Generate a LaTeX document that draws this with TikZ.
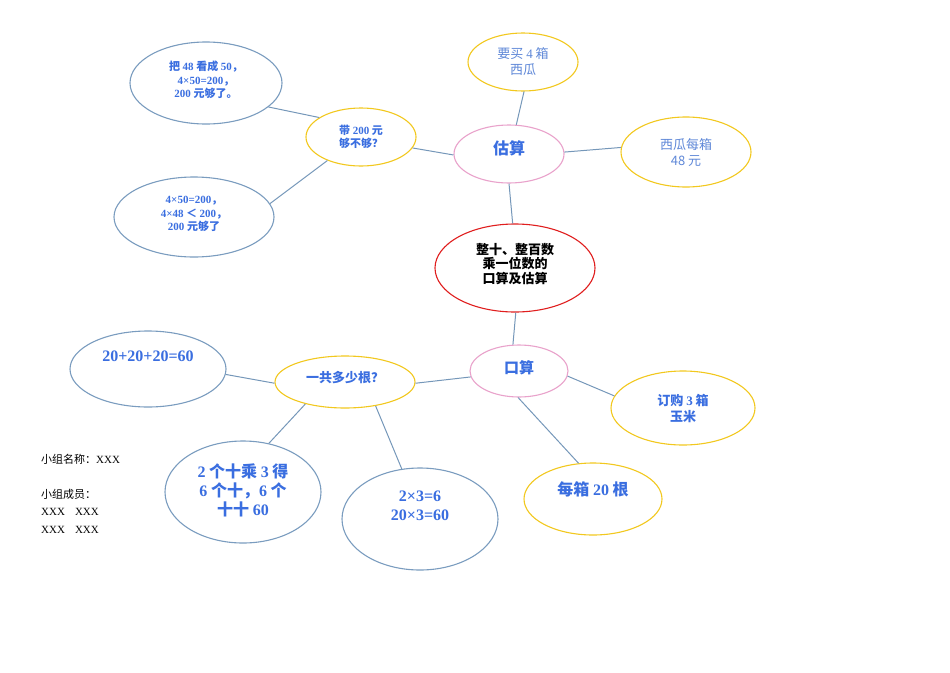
\documentclass[tikz,border=0pt]{standalone}
\usepackage{fontspec}
\setmainfont{Noto Sans CJK SC}
\newfontfamily\lt{Liberation Serif}
\usetikzlibrary{shapes.geometric}
\definecolor{edgec}{HTML}{7597B9}
\definecolor{bluec}{HTML}{7A9CBF}
\definecolor{yelc}{HTML}{F2C81E}
\definecolor{pinkc}{HTML}{E9A2CB}
\definecolor{redc}{HTML}{E01E1E}
\definecolor{txtc}{HTML}{3A6EE0}
\definecolor{ltxt}{HTML}{5F88D8}
\tikzset{
  oval/.style={ellipse, draw, line width=1.1pt, inner sep=0pt, align=center, fill=white},
  bov/.style={oval, draw=bluec},
  yov/.style={oval, draw=yelc},
  pov/.style={oval, draw=pinkc},
  rov/.style={oval, draw=redc},
  conn/.style={draw=edgec, line width=1pt},
  side/.style={anchor=west, inner sep=0pt, font=\fontsize{11}{13}\selectfont},
}
\begin{document}
\begin{tikzpicture}[x=1pt,y=-1pt]
\useasboundingbox (0,0) rectangle (950,672);
% nodes
\node[rov, minimum width=160pt, minimum height=88pt, font=\bfseries\fontsize{13}{14.5}\selectfont,
  label={[font=\bfseries\fontsize{13}{14.5}\selectfont, align=center, yshift=4pt]center:整十、整百数\\乘一位数的\\口算及估算}] (main) at (515,268) {};
\node[pov, minimum width=110pt, minimum height=58pt, text=txtc, font=\bfseries\fontsize{16}{18}\selectfont,
  label={[text=txtc, font=\bfseries\fontsize{16}{18}\selectfont, yshift=6pt]center:估算}] (gs) at (509,154) {};
\node[yov, minimum width=110pt, minimum height=58pt, text=ltxt, font=\fontsize{13}{16}\selectfont] (ym) at (523,62) {要买 {\lt 4} 箱\\西瓜};
\node[yov, minimum width=130pt, minimum height=70pt, text=ltxt, font=\fontsize{13}{16}\selectfont] (xg) at (686,152) {西瓜每箱\\48 元};
\node[yov, minimum width=110pt, minimum height=58pt, text=txtc, font=\bfseries\fontsize{11}{13.5}\selectfont] (dai) at (361,137) {带 {\lt 200} 元\\够不够？};
\node[bov, minimum width=152pt, minimum height=82pt, text=txtc, font=\bfseries\fontsize{11}{13.5}\selectfont,
  label={[text=txtc, font=\bfseries\fontsize{11}{13.5}\selectfont, align=center, yshift=3pt]center:把 {\lt 48} 看成 {\lt 50}，\\{\lt 4×50=200}，\\{\lt 200} 元够了。}] (ba) at (206,83) {};
\node[bov, minimum width=160pt, minimum height=80pt, text=txtc, font=\bfseries\fontsize{11}{13.5}\selectfont,
  label={[text=txtc, font=\bfseries\fontsize{11}{13.5}\selectfont, align=center, yshift=3pt]center:{\lt 4×50=200}，\\{\lt 4×48} ＜ {\lt 200}，\\{\lt 200} 元够了}] (sf) at (194,217) {};
\node[pov, minimum width=98pt, minimum height=52pt, text=txtc, font=\bfseries\fontsize{15}{17}\selectfont,
  label={[text=txtc, font=\bfseries\fontsize{15}{17}\selectfont, yshift=3pt]center:口算}] (ks) at (519,371) {};
\node[yov, minimum width=140pt, minimum height=52pt, text=txtc, font=\bfseries\fontsize{13}{15}\selectfont,
  label={[text=txtc, font=\bfseries\fontsize{13}{15}\selectfont, yshift=4pt]center:一共多少根？}] (yg) at (345,382) {};
\node[bov, minimum width=156pt, minimum height=76pt,
  label={[text=txtc, font=\bfseries\lt\fontsize{16}{18}\selectfont, yshift=13pt]center:20+20+20=60}] (ee) at (148,369) {};
\node[bov, minimum width=156pt, minimum height=102pt, text=txtc, font=\bfseries\fontsize{16}{19}\selectfont,
  label={[text=txtc, font=\bfseries\fontsize{16}{19}\selectfont, align=center, yshift=2pt]center:{\lt 2} 个十乘 {\lt 3} 得\\{\lt 6} 个十，{\lt 6} 个\\十十 {\lt 60}}] (lg) at (243,492) {};
\node[bov, minimum width=156pt, minimum height=102pt,
  label={[text=txtc, font=\bfseries\lt\fontsize{16}{19}\selectfont, align=center, yshift=13pt]center:2×3=6\\20×3=60}] (ls) at (420,519) {};
\node[yov, minimum width=138pt, minimum height=72pt,
  label={[text=txtc, font=\bfseries\fontsize{16}{18}\selectfont, yshift=10pt]center:每箱 {\lt 20} 根}] (mx) at (593,499) {};
\node[yov, minimum width=144pt, minimum height=74pt, text=txtc, font=\bfseries\fontsize{13}{16}\selectfont] (dg) at (683,408) {订购 {\lt 3} 箱\\玉米};
% side text
\node[side] (zm) at (41,459) {小组名称：{\lt XXX}};
\node[side] (zy) at (41,494) {小组成员：};
\node[side] (z1) at (41,512) {\lt XXX\hspace{10pt}XXX};
\node[side] (z2) at (41,530) {\lt XXX\hspace{10pt}XXX};
% connectors
\draw[conn] (main.93) -- (gs.270);
\draw[conn] (main.271) -- (ks.103);
\draw[conn] (gs.76) -- (ym.272);
\draw[conn] (gs.2) -- (xg.176);
\draw[conn] (gs.181) -- (dai.348);
\draw[conn] (dai.155) -- (ba.339);
\draw[conn] (dai.215) -- (sf.10);
\draw[conn] (ks.187) -- (yg.359);
\draw[conn] (ks.354) -- (dg.170);
\draw[conn] (ks.268) -- (mx.112);
\draw[conn] (yg.181) -- (ee.356);
\draw[conn] (yg.209) -- (lg.62);
\draw[conn] (yg.322) -- (ls.110);
\end{tikzpicture}
\end{document}
